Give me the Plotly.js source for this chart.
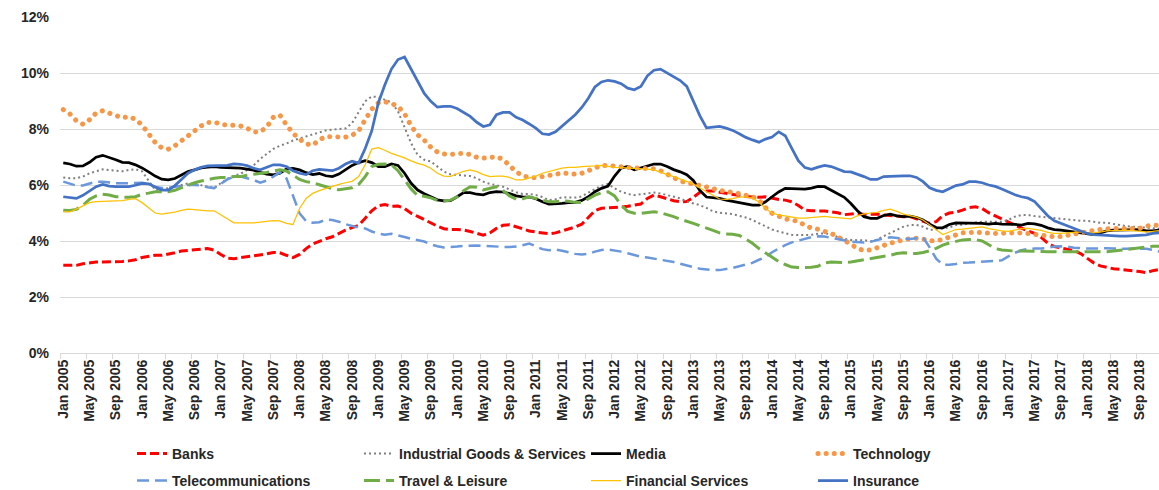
<!DOCTYPE html>
<html><head><meta charset="utf-8">
<script src="https://cdn.plot.ly/plotly-3.0.1.min.js"></script>
<style>html,body{margin:0;padding:0;background:#fff;}#chart{width:1159px;height:490px;}</style>
</head><body><div id="chart"></div>
<script>
const monthNames = ['Jan','Feb','Mar','Apr','May','Jun','Jul','Aug','Sep','Oct','Nov','Dec'];
const years = [2005,2006,2007,2008,2009,2010,2011,2012,2013,2014,2015,2016,2017,2018];
const categories = [];
for (const y of years) for (const m of monthNames) categories.push(m + ' ' + y);

const seriesNames = ['Banks','Industrial Goods & Services','Media','Technology','Telecommunications','Travel & Leisure','Financial Services','Insurance'];

const banks = [3.13,3.12,3.13,3.19,3.23,3.25,3.25,3.25,3.25,3.27,3.29,3.33,
3.41,3.46,3.49,3.49,3.53,3.58,3.64,3.67,3.70,3.71,3.73,3.67,
3.52,3.39,3.37,3.40,3.43,3.46,3.49,3.54,3.59,3.58,3.49,3.41,
3.52,3.73,3.89,3.99,4.08,4.15,4.27,4.39,4.48,4.56,4.81,5.08,
5.26,5.30,5.24,5.25,5.16,4.99,4.88,4.76,4.65,4.53,4.44,4.41,
4.41,4.39,4.34,4.27,4.21,4.29,4.45,4.56,4.58,4.51,4.44,4.36,
4.32,4.28,4.26,4.29,4.36,4.44,4.50,4.60,4.84,5.08,5.17,5.18,
5.20,5.21,5.24,5.27,5.32,5.52,5.64,5.58,5.51,5.44,5.40,5.41,
5.56,5.74,5.79,5.79,5.74,5.70,5.67,5.63,5.59,5.57,5.56,5.58,
5.53,5.48,5.46,5.40,5.27,5.10,5.08,5.08,5.07,5.04,5.01,4.94,
4.96,4.99,4.95,4.96,4.96,4.93,4.90,4.89,4.87,4.87,4.79,4.72,
4.63,4.69,4.90,5.00,5.03,5.10,5.19,5.22,5.16,5.01,4.90,4.78,
4.66,4.56,4.46,4.36,4.27,4.13,3.92,3.80,3.76,3.71,3.66,3.55,
3.37,3.22,3.11,3.06,3.01,2.99,2.97,2.94,2.91,2.87,2.94,2.98];

const industrial = [6.27,6.24,6.24,6.30,6.42,6.49,6.56,6.53,6.50,6.49,6.54,6.56,
6.49,6.16,5.82,5.84,5.88,5.94,6.00,6.06,6.04,5.98,5.94,5.90,
6.06,6.23,6.33,6.40,6.54,6.70,6.93,7.11,7.29,7.40,7.48,7.59,
7.66,7.73,7.79,7.86,7.95,7.98,7.99,8.02,8.21,8.59,8.99,9.16,
9.14,9.04,8.95,8.63,8.09,7.49,7.07,6.90,6.84,6.66,6.48,6.38,
6.36,6.36,6.32,6.24,6.12,6.04,6.00,5.94,5.84,5.74,5.68,5.68,
5.64,5.57,5.46,5.49,5.56,5.56,5.55,5.59,5.73,5.86,5.97,6.04,
5.88,5.76,5.68,5.64,5.67,5.70,5.73,5.70,5.64,5.58,5.52,5.41,
5.34,5.28,5.18,5.06,5.01,4.99,4.96,4.90,4.84,4.75,4.63,4.51,
4.41,4.34,4.27,4.22,4.21,4.21,4.22,4.26,4.27,4.24,4.14,4.08,
4.04,4.03,4.03,3.99,4.05,4.17,4.28,4.39,4.51,4.57,4.57,4.51,
4.40,4.41,4.45,4.48,4.57,4.58,4.63,4.66,4.69,4.69,4.69,4.69,
4.75,4.87,4.93,4.93,4.89,4.87,4.84,4.81,4.81,4.77,4.75,4.72,
4.72,4.69,4.65,4.65,4.60,4.57,4.53,4.51,4.48,4.48,4.45,4.44];

const media = [6.79,6.75,6.67,6.68,6.81,6.99,7.06,6.99,6.90,6.81,6.80,6.72,
6.61,6.47,6.32,6.21,6.18,6.23,6.36,6.48,6.54,6.61,6.64,6.66,
6.63,6.61,6.61,6.60,6.57,6.53,6.45,6.39,6.36,6.42,6.57,6.59,
6.54,6.44,6.37,6.41,6.33,6.30,6.39,6.54,6.70,6.80,6.87,6.80,
6.66,6.66,6.75,6.70,6.42,6.06,5.82,5.69,5.58,5.47,5.43,5.44,
5.58,5.73,5.73,5.67,5.65,5.73,5.76,5.75,5.69,5.61,5.58,5.57,
5.51,5.40,5.32,5.32,5.34,5.37,5.38,5.45,5.58,5.76,5.88,5.96,
6.32,6.60,6.66,6.54,6.60,6.68,6.75,6.75,6.66,6.55,6.47,6.37,
6.16,5.80,5.57,5.55,5.52,5.46,5.42,5.36,5.32,5.28,5.28,5.40,
5.58,5.75,5.88,5.87,5.85,5.85,5.89,5.95,5.94,5.82,5.68,5.56,
5.34,5.08,4.87,4.81,4.81,4.91,4.96,4.90,4.87,4.89,4.84,4.75,
4.60,4.48,4.47,4.59,4.65,4.65,4.65,4.63,4.63,4.60,4.63,4.60,
4.60,4.59,4.57,4.63,4.61,4.56,4.47,4.41,4.39,4.36,4.33,4.29,
4.27,4.23,4.29,4.36,4.39,4.39,4.39,4.41,4.41,4.36,4.36,4.39];

const technology = [8.69,8.54,8.29,8.17,8.33,8.57,8.65,8.57,8.45,8.40,8.44,8.35,
8.14,7.83,7.52,7.33,7.28,7.40,7.59,7.78,7.97,8.11,8.23,8.24,
8.18,8.13,8.13,8.11,8.03,7.89,7.90,8.07,8.42,8.50,8.15,7.85,
7.64,7.47,7.42,7.61,7.73,7.71,7.70,7.71,7.78,7.93,8.33,8.71,
8.93,8.97,8.91,8.81,8.54,8.11,7.79,7.60,7.35,7.18,7.11,7.09,
7.12,7.13,7.09,6.99,6.96,6.99,7.01,6.92,6.72,6.47,6.33,6.27,
6.26,6.29,6.32,6.38,6.43,6.41,6.39,6.42,6.50,6.62,6.70,6.70,
6.69,6.66,6.63,6.61,6.60,6.60,6.58,6.51,6.37,6.23,6.14,6.08,
6.04,5.99,5.93,5.87,5.81,5.76,5.74,5.70,5.65,5.58,5.46,5.19,
4.99,4.88,4.79,4.75,4.70,4.56,4.46,4.42,4.36,4.27,4.15,4.03,
3.89,3.73,3.66,3.68,3.74,3.84,3.92,3.99,4.04,4.08,4.10,4.07,
4.01,4.01,4.05,4.14,4.22,4.29,4.30,4.32,4.29,4.27,4.27,4.28,
4.29,4.29,4.29,4.27,4.23,4.21,4.17,4.15,4.16,4.21,4.24,4.32,
4.36,4.38,4.41,4.44,4.45,4.45,4.44,4.44,4.45,4.53,4.57,4.56];

const telecom = [6.12,6.06,5.98,5.98,6.05,6.12,6.12,6.08,6.06,6.06,6.06,6.08,
6.08,6.04,5.93,5.89,5.90,5.94,5.98,6.00,6.00,5.98,5.92,5.89,
6.04,6.20,6.30,6.30,6.24,6.18,6.08,6.16,6.30,6.45,6.24,5.64,
4.99,4.71,4.65,4.67,4.76,4.75,4.69,4.60,4.54,4.48,4.45,4.34,
4.27,4.22,4.26,4.21,4.14,4.08,4.03,3.98,3.88,3.81,3.77,3.78,
3.80,3.83,3.84,3.84,3.83,3.81,3.81,3.79,3.79,3.80,3.85,3.91,
3.81,3.71,3.67,3.70,3.65,3.59,3.54,3.52,3.54,3.62,3.68,3.70,
3.67,3.62,3.56,3.49,3.44,3.41,3.37,3.35,3.31,3.25,3.19,3.12,
3.07,3.01,2.98,2.96,2.96,2.99,3.04,3.10,3.16,3.22,3.33,3.43,
3.60,3.73,3.85,3.95,4.02,4.08,4.14,4.17,4.16,4.11,4.08,4.03,
3.98,3.96,3.95,3.97,4.03,4.10,4.13,4.11,4.08,4.07,4.10,4.13,
3.77,3.37,3.15,3.15,3.18,3.22,3.23,3.25,3.27,3.28,3.29,3.31,
3.45,3.58,3.67,3.72,3.73,3.73,3.76,3.80,3.81,3.80,3.76,3.74,
3.73,3.73,3.74,3.74,3.73,3.72,3.72,3.73,3.73,3.72,3.68,3.62];

const travel = [5.10,5.09,5.13,5.28,5.49,5.61,5.67,5.64,5.58,5.56,5.56,5.58,
5.67,5.71,5.76,5.76,5.76,5.81,5.90,6.01,6.08,6.14,6.20,6.24,
6.27,6.27,6.30,6.30,6.35,6.38,6.42,6.45,6.50,6.54,6.50,6.36,
6.20,6.12,6.08,6.01,5.94,5.87,5.83,5.86,5.90,6.02,6.30,6.66,
6.74,6.75,6.72,6.51,6.18,5.86,5.62,5.60,5.54,5.45,5.43,5.46,
5.58,5.80,5.94,5.92,5.82,5.87,5.94,5.80,5.61,5.49,5.51,5.58,
5.52,5.46,5.40,5.40,5.44,5.42,5.38,5.37,5.49,5.64,5.72,5.76,
5.61,5.28,5.06,4.99,4.99,5.02,5.04,5.01,4.95,4.87,4.78,4.71,
4.63,4.54,4.47,4.38,4.29,4.25,4.24,4.20,4.07,3.92,3.73,3.58,
3.41,3.27,3.16,3.07,3.05,3.05,3.06,3.10,3.22,3.25,3.23,3.23,
3.25,3.29,3.31,3.36,3.41,3.43,3.49,3.55,3.58,3.56,3.55,3.59,
3.65,3.74,3.85,3.93,3.99,4.04,4.05,4.05,4.00,3.85,3.73,3.68,
3.65,3.64,3.64,3.63,3.62,3.62,3.62,3.62,3.62,3.62,3.62,3.61,
3.61,3.61,3.61,3.62,3.64,3.67,3.70,3.73,3.76,3.79,3.81,3.81];

const financial = [5.04,5.04,5.14,5.27,5.37,5.41,5.42,5.42,5.42,5.44,5.49,5.51,
5.37,5.18,5.00,4.96,4.99,5.03,5.09,5.14,5.12,5.09,5.08,5.08,
4.93,4.77,4.65,4.65,4.64,4.65,4.67,4.70,4.73,4.72,4.63,4.59,
5.16,5.52,5.70,5.80,5.88,5.94,6.02,6.08,6.13,6.30,6.72,7.28,
7.33,7.24,7.13,7.05,6.97,6.86,6.77,6.71,6.60,6.42,6.32,6.31,
6.41,6.49,6.54,6.48,6.37,6.30,6.32,6.32,6.27,6.18,6.18,6.24,
6.32,6.42,6.48,6.54,6.60,6.63,6.63,6.66,6.66,6.68,6.70,6.66,
6.63,6.62,6.61,6.60,6.60,6.57,6.54,6.45,6.37,6.30,6.21,6.13,
6.04,5.89,5.75,5.63,5.50,5.49,5.51,5.57,5.58,5.53,5.39,5.16,
4.99,4.93,4.89,4.84,4.82,4.82,4.84,4.88,4.88,4.85,4.83,4.81,
4.79,4.90,4.97,5.00,5.02,5.09,5.14,5.06,4.96,4.91,4.85,4.75,
4.57,4.39,4.23,4.32,4.41,4.42,4.45,4.48,4.50,4.44,4.39,4.36,
4.34,4.38,4.44,4.45,4.42,4.38,4.31,4.27,4.27,4.29,4.32,4.33,
4.30,4.29,4.32,4.36,4.37,4.39,4.39,4.37,4.34,4.33,4.34,4.37];

const insurance = [5.58,5.55,5.52,5.63,5.80,5.94,6.02,5.96,5.94,5.94,5.94,5.99,
6.06,6.04,5.92,5.82,5.82,5.98,6.20,6.42,6.54,6.63,6.68,6.68,
6.68,6.70,6.75,6.74,6.69,6.60,6.54,6.62,6.72,6.72,6.66,6.51,
6.42,6.37,6.51,6.56,6.54,6.51,6.60,6.75,6.85,6.78,7.30,7.93,
8.93,9.58,10.14,10.48,10.57,10.12,9.70,9.27,8.99,8.78,8.81,8.81,
8.73,8.59,8.45,8.24,8.09,8.15,8.51,8.59,8.59,8.42,8.32,8.18,
8.03,7.83,7.80,7.90,8.11,8.33,8.51,8.77,9.10,9.50,9.68,9.74,
9.70,9.62,9.46,9.40,9.52,9.90,10.10,10.14,10.00,9.84,9.73,9.52,
8.99,8.47,8.04,8.07,8.09,8.03,7.95,7.83,7.70,7.61,7.53,7.64,
7.71,7.90,7.76,7.31,6.87,6.62,6.56,6.64,6.70,6.66,6.56,6.48,
6.47,6.39,6.30,6.20,6.20,6.30,6.32,6.32,6.33,6.33,6.27,6.12,
5.90,5.81,5.76,5.87,5.98,6.02,6.12,6.12,6.08,6.00,5.95,5.86,
5.76,5.65,5.58,5.53,5.41,5.16,4.90,4.72,4.63,4.56,4.47,4.36,
4.27,4.23,4.21,4.21,4.19,4.17,4.17,4.19,4.20,4.22,4.27,4.29];

const seriesValues = [banks, industrial, media, technology, telecom, travel, financial, insurance];
const lineStyles = [
  {color:'#ff0000', width:3, dash:'9px,4px'},
  {color:'#7f7f7f', width:2, dash:'2px,3px'},
  {color:'#000000', width:2.75, dash:'solid'},
  {color:'#f79646', width:5, dash:'0.1px,8px'},
  {color:'#6b98dc', width:2.5, dash:'12px,6px'},
  {color:'#70ad47', width:3, dash:'16px,6px'},
  {color:'#ffc000', width:1.25, dash:'solid'},
  {color:'#4472c4', width:2.75, dash:'solid'}
];

const traces = seriesNames.map((name, k) => ({
  type: 'scatter', mode: 'lines', name: name,
  x: categories, y: seriesValues[k],
  line: Object.assign({shape:'linear'}, lineStyles[k]),
  legend: k < 4 ? 'legend' : 'legend2',
  hoverinfo: 'skip'
}));

const fnt = {family:'"Liberation Sans", Arial, sans-serif', size:14, color:'#262626', weight:700};
const legendBase = {orientation:'h', xref:'container', yref:'container', x:132/1159, xanchor:'left',
  yanchor:'middle', entrywidth:182, entrywidthmode:'pixels', font:fnt, bgcolor:'rgba(0,0,0,0)', borderwidth:0,
  itemwidth:30, traceorder:'normal'};

const layout = {
  width:1159, height:490,
  margin:{l:60, r:0, t:17, b:137.4, pad:0},
  paper_bgcolor:'#ffffff', plot_bgcolor:'#ffffff',
  showlegend:true,
  xaxis:{type:'category', range:[-0.5, 166.95], dtick:4, tickangle:-90, tickson:'boundaries',
    ticks:'outside', ticklen:5, tickcolor:'#d9d9d9', tickwidth:1,
    showline:true, linecolor:'#d9d9d9', linewidth:1, showgrid:false, zeroline:false,
    tickfont:fnt, automargin:false, fixedrange:true},
  yaxis:{range:[0,12], dtick:2, tick0:0, ticksuffix:'%', showgrid:true, gridcolor:'#d9d9d9', gridwidth:1,
    zeroline:false, showline:false, ticks:'', tickfont:fnt, ticklabelstandoff:10, automargin:false, fixedrange:true},
  legend:Object.assign({}, legendBase, {y:1-454/490}),
  legend2:Object.assign({}, legendBase, {y:1-481/490})
};

Plotly.newPlot('chart', traces, layout, {staticPlot:true, displayModeBar:false}).then(gd => {
  gd.querySelectorAll('path').forEach(p => {
    const d = p.style.strokeDasharray || '';
    if (d.indexOf('0.1') === 0) p.style.strokeLinecap = 'round';
  });
});
</script>
</body></html>
